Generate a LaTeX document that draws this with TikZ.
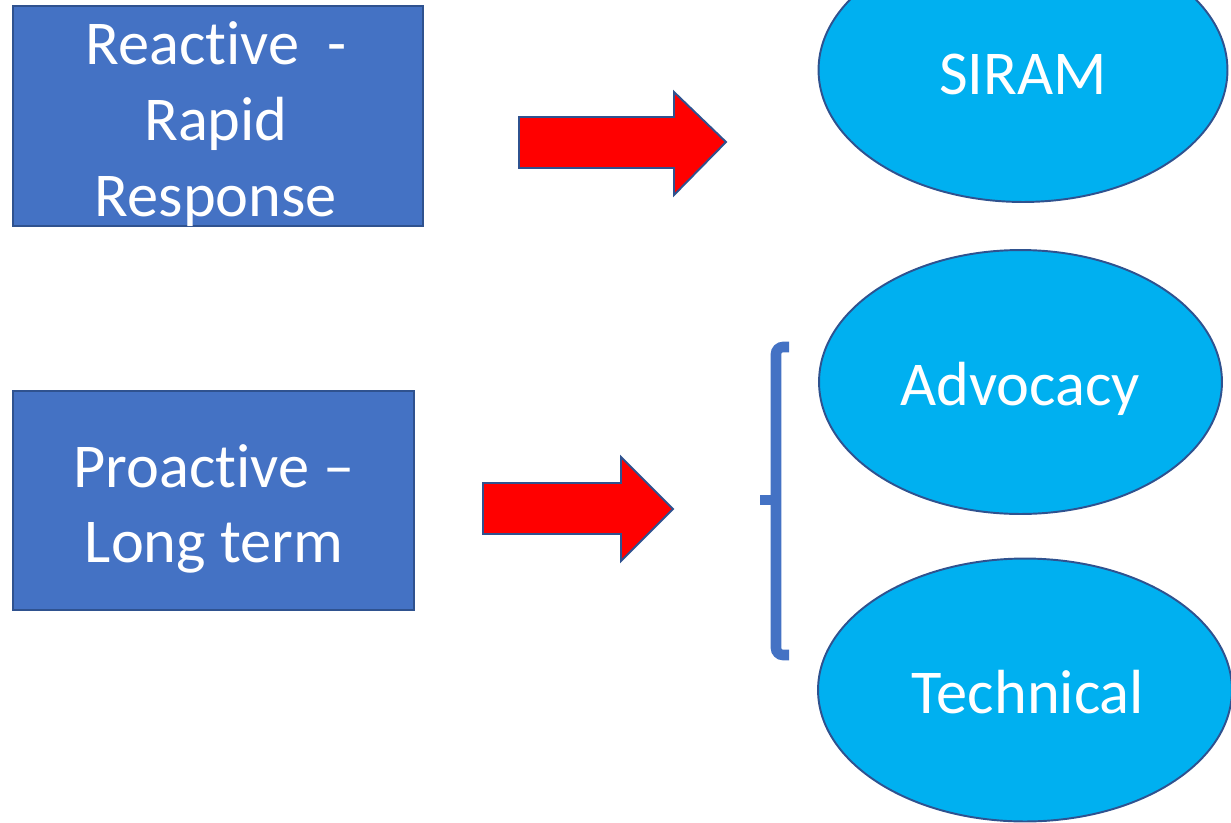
\documentclass[tikz,border=0pt]{standalone}
\usepackage{fontspec}
\setmainfont{Carlito}[Ligatures=NoCommon]
\usetikzlibrary{shapes.geometric}
\definecolor{boxblue}{HTML}{4472C4}
\definecolor{edgeblue}{HTML}{2F528F}
\definecolor{skyfill}{HTML}{00B0F0}
\definecolor{arrowred}{HTML}{FF0000}
\begin{document}
\begin{tikzpicture}[x=0.02cm,y=-0.02cm,
  boxstyle/.style={draw=edgeblue, fill=boxblue, line width=1.1pt},
  ovalstyle/.style={ellipse, draw=edgeblue, fill=skyfill, line width=1.1pt, inner sep=0pt},
  blockarrow/.style={draw=edgeblue, fill=arrowred, line width=1.1pt, line join=miter},
  txt/.style={text=white, font=\fontsize{35.5}{43.1}\selectfont, inner sep=0pt, align=center},
  bracketstyle/.style={draw=boxblue, line width=6pt}]
\useasboundingbox (0,0) rectangle (1231,822);
\clip (0,0) rectangle (1231,822);
% boxes
\node[boxstyle, minimum width=8.2cm, minimum height=4.4cm, inner sep=0pt] (reactive) at (218,116) {};
\node[txt] (reactivetxt) at (216,124) {Reactive\ \ -\\Rapid\\Response};
\node[boxstyle, minimum width=8.02cm, minimum height=4.38cm, inner sep=0pt] (proactive) at (213.5,500.5) {};
\node[txt] (proactivetxt) at (214,509) {Proactive –\\Long term};
% ellipses
\node[ovalstyle, minimum width=8.18cm, minimum height=5.28cm] (siram) at (1023,70) {};
\node[txt, anchor=base] (siramtxt) at (1023,94) {SIRAM};
\node[ovalstyle, minimum width=8.06cm, minimum height=5.28cm] (advocacy) at (1020.5,382) {};
\node[txt, anchor=base] (advocacytxt) at (1020,405) {Advocacy};
\node[ovalstyle, minimum width=8.28cm, minimum height=5.26cm] (technical) at (1025,690) {};
\node[txt, anchor=base] (technicaltxt) at (1028,713) {Technical};
% block arrows
\coordinate (a1) at (726,142);
\draw[blockarrow] (a1) -- (674,92) -- (674,117) -- (519,117) -- (519,168) -- (674,168) -- (674,195) -- cycle;
\coordinate (a2) at (673,509);
\draw[blockarrow] (a2) -- (621,457) -- (621,483) -- (483,483) -- (483,534) -- (621,534) -- (621,561) -- cycle;
% bracket
\coordinate (bt) at (789,347);
\coordinate (bb) at (789,655);
\draw[bracketstyle, rounded corners=4pt] (bt) -- (776,347) -- (776,655) -- (bb);
\coordinate (bm) at (776,500);
\draw[bracketstyle] (bm) -- (760,500);
\end{tikzpicture}
\end{document}
